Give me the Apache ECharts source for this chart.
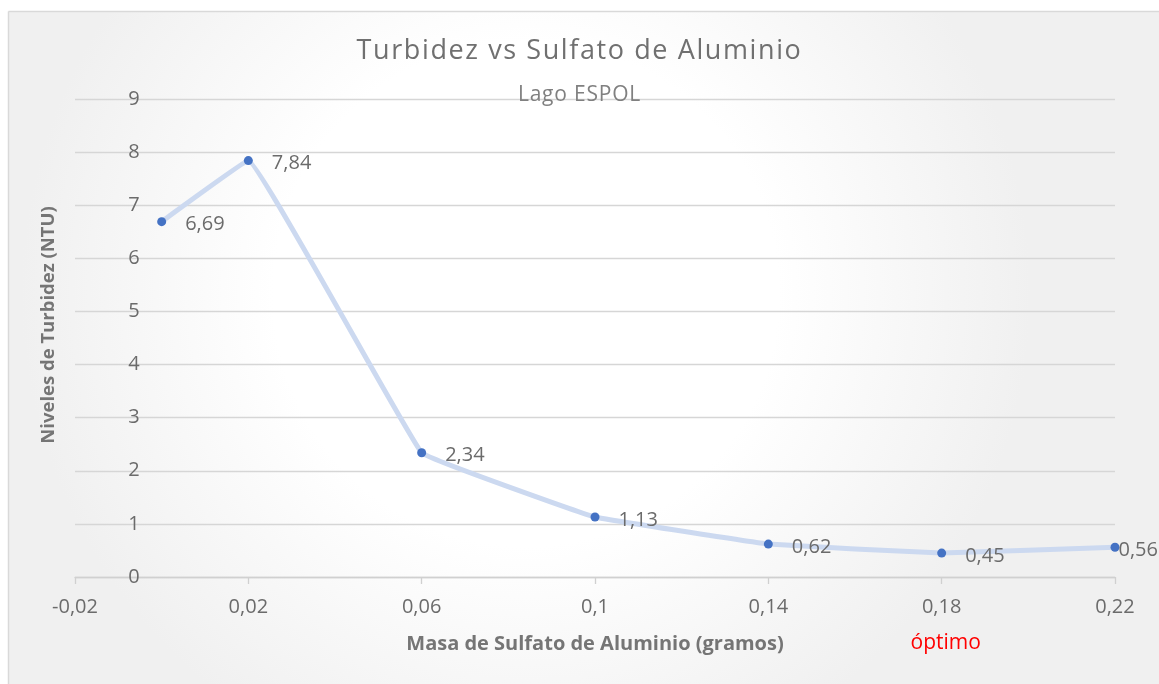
<!DOCTYPE html>
<html>
<head>
<meta charset="utf-8">
<script src="https://cdn.jsdelivr.net/npm/echarts@6/dist/echarts.min.js"></script>
<style>
html,body{margin:0;padding:0;background:#fff;}
#c{width:1159px;height:684px;}
</style>
</head>
<body>
<div id="c"></div>
<script>
const masa = [0, 0.02, 0.06, 0.1, 0.14, 0.18, 0.22];
const turbidez = [6.69, 7.84, 2.34, 1.13, 0.62, 0.45, 0.56];
const xTicks = [-0.02, 0.02, 0.06, 0.1, 0.14, 0.18, 0.22];
const yTicks = [0, 1, 2, 3, 4, 5, 6, 7, 8, 9];
const titulo = 'Turbidez vs Sulfato de Aluminio';
const subtitulo = 'Lago ESPOL';
const ejeX = 'Masa de Sulfato de Aluminio (gramos)';
const ejeY = 'Niveles de Turbidez (NTU)';
const nota = 'óptimo';
const notaX = 0.18;

// letter spacing for the (Excel-style) spaced title texts
const SPACING = {};
SPACING[titulo] = 1.6;
SPACING[subtitulo] = 0.8;
const origFill = CanvasRenderingContext2D.prototype.fillText;
CanvasRenderingContext2D.prototype.fillText = function (t, x, y, w) {
  const s = SPACING[t];
  if (s && 'letterSpacing' in this) {
    const prev = this.letterSpacing;
    this.letterSpacing = s + 'px';
    let dx = 0;
    const a = this.textAlign;
    if (a === 'left' || a === 'start') dx = -(t.length * s) / 2;
    const r = w === undefined ? origFill.call(this, t, x + dx, y) : origFill.call(this, t, x + dx, y, w);
    this.letterSpacing = prev;
    return r;
  }
  return w === undefined ? origFill.call(this, t, x, y) : origFill.call(this, t, x, y, w);
};

const fmt = v => String(+v.toFixed(4)).replace('.', ',');
const FONT = '"Open Sans", "Liberation Sans", sans-serif';
const GREY = '#6b6b6b';

const W = 1159, H = 684, GRID_L = 75, GRID_R = 44;
const xMin = xTicks[0], xMax = xTicks[xTicks.length - 1];
// Excel puts the vertical axis where x = 0
const yAxisShift = (0 - xMin) / (xMax - xMin) * (W - GRID_L - GRID_R);

const chart = echarts.init(document.getElementById('c'), null, {renderer: 'canvas'});
const pts = masa.map((x, i) => [x, turbidez[i]]);

const option = {
  backgroundColor: '#ffffff',
  title: [
    {text: titulo, left: 'center', top: 33, padding: [5, 5, 5, 21],
     textStyle: {fontFamily: FONT, fontSize: 27, fontWeight: 'normal', color: '#707070'}},
    {text: subtitulo, left: 'center', top: 80, padding: [5, 5, 5, 25],
     textStyle: {fontFamily: FONT, fontSize: 21, fontWeight: 'normal', color: '#808080'}}
  ],
  grid: {left: GRID_L, right: GRID_R, top: 99, bottom: 107, containLabel: false, outerBoundsMode: 'none'},
  xAxis: {
    type: 'value', min: xMin, max: xMax,
    name: ejeX, nameLocation: 'middle', nameGap: 57,
    nameTextStyle: {fontFamily: FONT, fontSize: 20, fontWeight: 'bold', color: '#757575'},
    axisLine: {show: true, onZero: false, lineStyle: {color: '#d0d0d0', width: 1.3}},
    axisTick: {show: true, length: 7, inside: false, customValues: xTicks, lineStyle: {color: '#d0d0d0', width: 1.3}},
    axisLabel: {customValues: xTicks, formatter: fmt, margin: 20, fontFamily: FONT, fontSize: 20, color: GREY},
    splitLine: {show: false}
  },
  yAxis: {
    type: 'value', min: yTicks[0], max: yTicks[yTicks.length - 1], interval: 1,
    offset: -yAxisShift,
    name: ejeY, nameLocation: 'middle', nameGap: 103, nameRotate: 90,
    nameTextStyle: {fontFamily: FONT, fontSize: 18.5, fontWeight: 'bold', color: '#757575', padding: [0, 0, 0, 26]},
    axisLine: {show: false},
    axisTick: {show: false},
    axisLabel: {margin: 22, fontFamily: FONT, fontSize: 20, color: GREY, formatter: fmt},
    splitLine: {show: true, lineStyle: {color: '#d6d6d6', width: 1.3}}
  },
  series: [{
    type: 'line',
    data: pts,
    smooth: 0.05,
    symbol: 'circle', symbolSize: 9,
    itemStyle: {color: '#4472C4'},
    lineStyle: {color: '#ccd9f0', width: 5},
    label: {
      show: true, position: 'right', distance: 19, offset: [0, 3],
      fontFamily: FONT, fontSize: 20, color: GREY,
      formatter: p => fmt(p.value[1])
    },
    z: 3
  }]
};
// last point label sits right next to its marker
option.series[0].data = pts.map((p, i) => i === pts.length - 1 ? {value: p, label: {distance: -1}} : p);

chart.setOption(option);

const px = chart.convertToPixel({gridIndex: 0}, [notaX, 0]);
chart.setOption({
  graphic: [
    {type: 'rect', x: 8, y: 11, silent: true, z: -10,
     shape: {x: 0, y: 0, width: W - 8, height: H - 11},
     style: {
       fill: {type: 'radial', x: 0.45, y: 0.42, r: 0.75,
              colorStops: [{offset: 0, color: '#ffffff'}, {offset: 0.5, color: '#ffffff'}, {offset: 1, color: '#f0f0f0'}]},
       stroke: null}},
    {type: 'line', silent: true, z: -9,
     shape: {x1: 8.5, y1: 11.5, x2: W, y2: 11.5}, style: {stroke: '#d9d9d9', lineWidth: 1.5}},
    {type: 'line', silent: true, z: -9,
     shape: {x1: 8.5, y1: 11.5, x2: 8.5, y2: H}, style: {stroke: '#d9d9d9', lineWidth: 1.5}},
    {type: 'text', x: px[0] + 4, y: px[1] + 66, silent: true,
     style: {text: nota, fill: '#ff0000', font: '21px ' + FONT, textAlign: 'center', textVerticalAlign: 'middle'}}
  ]
});
</script>
</body>
</html>
